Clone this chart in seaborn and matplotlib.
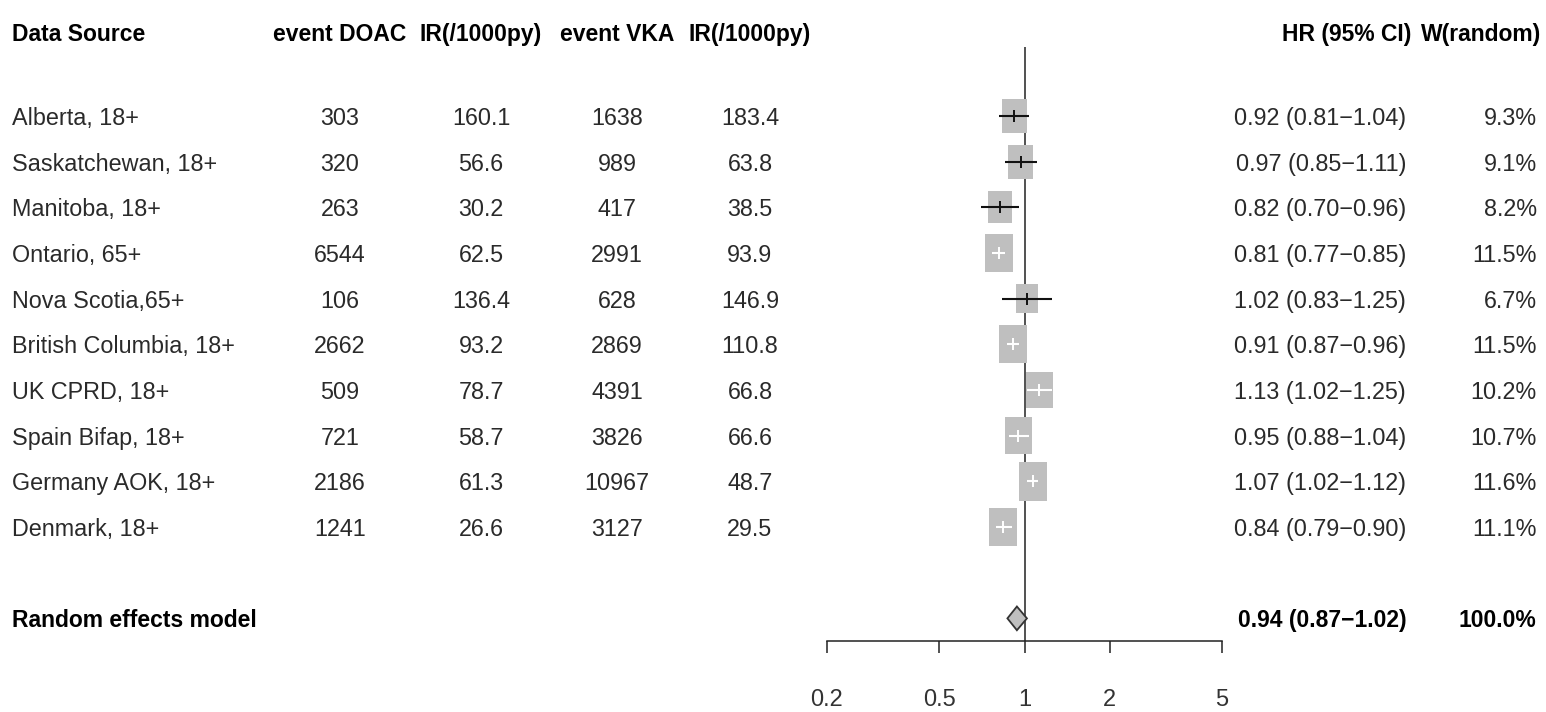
import numpy as np
import pandas as pd
import matplotlib
matplotlib.use("Agg")
import matplotlib.pyplot as plt
import matplotlib.transforms as mtransforms
from matplotlib.path import Path
import seaborn as sns

# Study-level data
studies = ["Alberta, 18+", "Saskatchewan, 18+", "Manitoba, 18+", "Ontario, 65+",
           "Nova Scotia,65+", "British Columbia, 18+", "UK CPRD, 18+",
           "Spain Bifap, 18+", "Germany AOK, 18+", "Denmark, 18+"]
event_doac = [303, 320, 263, 6544, 106, 2662, 509, 721, 2186, 1241]
ir_doac = [160.1, 56.6, 30.2, 62.5, 136.4, 93.2, 78.7, 58.7, 61.3, 26.6]
event_vka = [1638, 989, 417, 2991, 628, 2869, 4391, 3826, 10967, 3127]
ir_vka = [183.4, 63.8, 38.5, 93.9, 146.9, 110.8, 66.8, 66.6, 48.7, 29.5]
hr = [0.92, 0.97, 0.82, 0.81, 1.02, 0.91, 1.13, 0.95, 1.07, 0.84]
ci_low = [0.81, 0.85, 0.70, 0.77, 0.83, 0.87, 1.02, 0.88, 1.02, 0.79]
ci_high = [1.04, 1.11, 0.96, 0.85, 1.25, 0.96, 1.25, 1.04, 1.12, 0.90]
weight = [9.3, 9.1, 8.2, 11.5, 6.7, 11.5, 10.2, 10.7, 11.6, 11.1]

pooled_label = "Random effects model"
pooled_hr, pooled_low, pooled_high = 0.94, 0.87, 1.02
pooled_weight = 100.0

headers = ["Data Source", "event DOAC", "IR(/1000py)", "event VKA", "IR(/1000py)",
           "HR (95% CI)", "W(random)"]
x_ticks = [0.2, 0.5, 1, 2, 5]

df = pd.DataFrame({"study": studies, "hr": hr, "lo": ci_low, "hi": ci_high,
                   "w": weight})
df["row"] = np.arange(len(df))
pooled_row = len(df) + 1

sns.set_style("white")
plt.rcParams["font.family"] = ["Liberation Sans Narrow", "Liberation Sans", "DejaVu Sans"]

W, H = 1546, 712
fig = plt.figure(figsize=(W / 100, H / 100), dpi=100)
# axes covers the plotting column only; rows are in data units
ax = fig.add_axes([827 / W, 0, (1222 - 827) / W, 1])
ax.set_xscale("log")
ax.set_xlim(0.2, 5)
row_px = 45.67
ax.set_ylim((H - 116) / row_px, -116 / row_px)

# boxes: area proportional to weight, slightly taller than wide
box = Path([(-0.37, -0.5), (0.37, -0.5), (0.37, 0.5), (-0.37, 0.5), (-0.37, -0.5)],
           [Path.MOVETO, Path.LINETO, Path.LINETO, Path.LINETO, Path.CLOSEPOLY])
s_max = 760
sns.scatterplot(data=df, x="hr", y="row", size="w",
                sizes=(s_max * df.w.min() / df.w.max(), s_max),
                marker=box, color="#bfbfbf", edgecolor="none", linewidth=0,
                legend=False, ax=ax, zorder=2)

# CI lines: white when the interval sits inside the box
px_per_dec = (1222 - 827) / np.log10(25)
half_w = 0.37 * np.sqrt(s_max) * np.sqrt(df.w / df.w.max()) * 100 / 72 / px_per_dec
inside = (np.log10(df.hr / df.lo) < half_w) & (np.log10(df.hi / df.hr) < half_w)
ci_col = np.where(inside, "white", "#111111")
ax.hlines(df.row, df.lo, df.hi, colors=ci_col, linewidth=1.5, zorder=3)
for r, h, c in zip(df.row, df.hr, ci_col):
    ax.plot([h], [r], marker="|", markersize=8, mew=1.4, color=c, zorder=3)

# pooled diamond
dh = 0.26
ax.fill([pooled_low, pooled_hr, pooled_high, pooled_hr],
        [pooled_row, pooled_row - dh, pooled_row, pooled_row + dh],
        facecolor="#bfbfbf", edgecolor="#333333", linewidth=1.3, zorder=4)

# reference line at 1
ax.vlines(1, -1.5, 11.5, color="#222222", linewidth=1.1, zorder=1)

for sp in ["left", "right", "top"]:
    ax.spines[sp].set_visible(False)
ax.spines["bottom"].set_position(("data", 11.5))
ax.spines["bottom"].set_color("#222222")
ax.spines["bottom"].set_linewidth(1.1)
ax.set_xticks(x_ticks)
ax.set_xticklabels([f"{t:g}" for t in x_ticks])
ax.xaxis.set_minor_locator(matplotlib.ticker.NullLocator())
ax.tick_params(axis="x", direction="out", length=8.6, width=1.1, color="#222222",
               labelsize=17, labelcolor="#333333", pad=26, bottom=True)
ax.set_yticks([])
ax.set_xlabel("")
ax.set_ylabel("")

# text columns
trans = mtransforms.blended_transform_factory(fig.transFigure, ax.transData)
txt = "#2a2a2a"
fs = 16.8
fs_head = 16.5
header_y = -1.85
col_x = [12, 340, 481, 617, 750, 1411, 1541]
col_ha = ["left", "center", "center", "center", "center", "right", "right"]
for h, x, ha in zip(headers, col_x, col_ha):
    ax.text(x / W, header_y, h, transform=trans, ha=ha, va="center_baseline",
            fontsize=fs_head, fontweight="bold", color="black")

for i in range(len(df)):
    vals = [studies[i], f"{event_doac[i]}", f"{ir_doac[i]:.1f}", f"{event_vka[i]}",
            f"{ir_vka[i]:.1f}",
            f"{hr[i]:.2f} ({ci_low[i]:.2f}\u2212{ci_high[i]:.2f})",
            f"{weight[i]:.1f}%"]
    xs = col_x[:]
    xs[5] = 1406
    xs[6] = 1537
    for v, x, ha in zip(vals, xs, col_ha):
        ax.text(x / W, i, v, transform=trans, ha=ha, va="center_baseline",
                fontsize=fs, color=txt)

ax.text(12 / W, pooled_row, pooled_label, transform=trans, ha="left",
        va="center_baseline", fontsize=fs_head, fontweight="bold", color="black")
ax.text(1407 / W, pooled_row,
        f"{pooled_hr:.2f} ({pooled_low:.2f}\u2212{pooled_high:.2f})",
        transform=trans, ha="right", va="center_baseline", fontsize=fs_head,
        fontweight="bold", color="black")
ax.text(1536 / W, pooled_row, f"{pooled_weight:.1f}%", transform=trans, ha="right",
        va="center_baseline", fontsize=fs_head, fontweight="bold", color="black")

fig.savefig("out.png", dpi=100)
